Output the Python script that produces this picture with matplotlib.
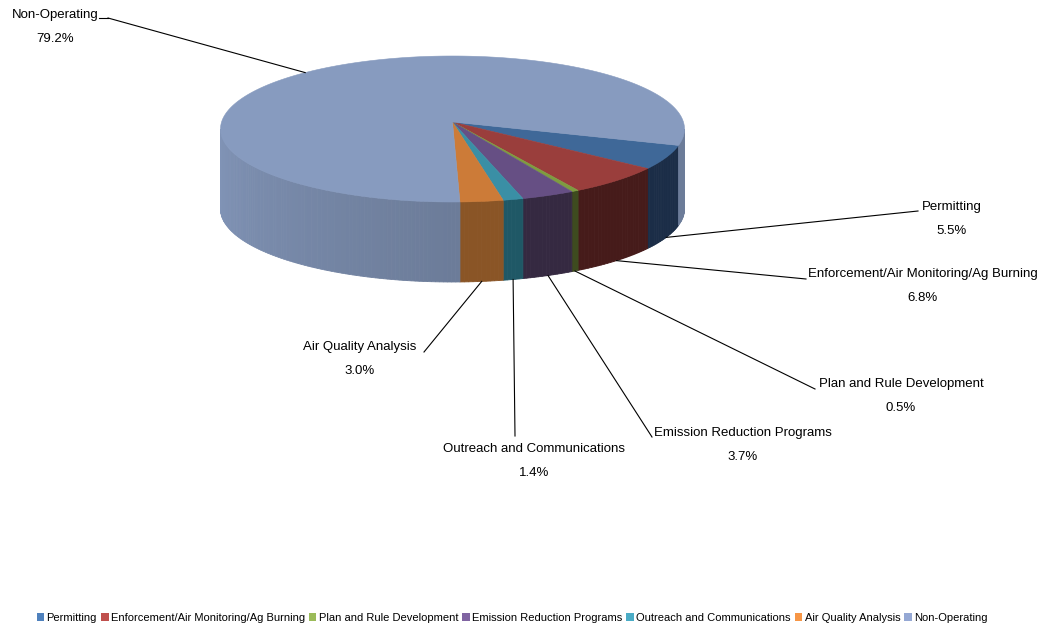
import numpy as np
import matplotlib
matplotlib.use('Agg')
import matplotlib.pyplot as plt
from matplotlib import font_manager
from matplotlib.patches import Polygon, Patch
from matplotlib.colors import to_rgb

# Данные
categories = ['Permitting', 'Enforcement/Air Monitoring/Ag Burning', 'Plan and Rule Development',
              'Emission Reduction Programs', 'Outreach and Communications', 'Air Quality Analysis',
              'Non-Operating']
shares = [5.5, 6.8, 0.5, 3.7, 1.4, 3.0, 79.2]

top_colors = ['#3F6898', '#9A3E3C', '#7E9C40', '#664F84', '#3A8FA5', '#CC7B38', '#879BBF']
side_colors = ['#1B2D47', '#461B1A', '#3E4B1F', '#352941', '#1F5866', '#8A5526', '#6C7C99']
legend_colors = ['#4F81BD', '#C0504D', '#9BBB59', '#8064A2', '#4BACC6', '#F79646', '#95A8D4']

# расположение подписей (в пикселях)
label_pos = [(952, 219), (923, 286), (901, 396), (743, 445), (534, 461), (360, 359), (55, 27)]
label_end = [(918, 211), (806, 279), (815, 389), (652, 437), (515, 436), (424, 352), (108, 18)]

names = {f.name for f in font_manager.fontManager.ttflist}
fam = 'Liberation Sans Narrow' if 'Liberation Sans Narrow' in names else 'Liberation Sans'
plt.rcParams['font.family'] = [fam, 'DejaVu Sans']
fs = 10.5 if fam == 'Liberation Sans Narrow' else 9.5

W, H = 1051, 629
fig = plt.figure(figsize=(W / 100, H / 100), dpi=100)
ax = fig.add_axes([0, 0, 1, 1])
ax.set_xlim(0, W)
ax.set_ylim(H, 0)
ax.axis('off')

ax0, ay0 = 452.5, 122          # вершина секторов
cx, cy, rx, ry, depth = 452.5, 129, 232, 73, 80
start = -13.0


def pt(t, dz=0):
    r = np.radians(t)
    return cx + rx * np.cos(r), cy - ry * np.sin(r) + dz


def shade(c, f):
    return tuple(min(1, v * f) for v in to_rgb(c))


total = sum(shares)
bounds = [start]
for s in shares:
    bounds.append(bounds[-1] - s / total * 360)

# боковые стенки (только передняя часть)
for i in range(len(shares)):
    lo, hi = bounds[i + 1], bounds[i]
    segs = []
    for off in (0, 360, -360):
        l, h = max(lo + off, -180), min(hi + off, 0)
        if l < h:
            segs.append((l, h))
    for l, h in segs:
        n = max(2, int((h - l) / 1.0))
        ts = np.linspace(l, h, n + 1)
        for k in range(n):
            ta, tb = ts[k], ts[k + 1]
            if i == len(shares) - 1:
                f = 1.0 + 0.2 * np.clip((-(ta + tb) / 2 - 90) / 90, 0, 1)
                col = shade(side_colors[i], f)
            else:
                col = side_colors[i]
            p1, p2 = pt(ta), pt(tb)
            poly = [p1, p2, (p2[0], p2[1] + depth), (p1[0], p1[1] + depth)]
            ax.add_patch(Polygon(poly, closed=True, fc=col, ec=col, lw=0.6))

# верхние грани
for i in range(len(shares)):
    ts = np.linspace(bounds[i], bounds[i + 1], 200)
    poly = [(ax0, ay0)] + [pt(t) for t in ts]
    ax.add_patch(Polygon(poly, closed=True, fc=top_colors[i], ec=top_colors[i], lw=0.4))

# подписи и выноски
for i, name in enumerate(categories):
    mid = (bounds[i] + bounds[i + 1]) / 2
    m = ((mid + 180) % 360) - 180
    x, y = pt(mid)
    if m < 0:
        y += depth
    ex, ey = label_end[i]
    ax.plot([x, ex], [y, ey], color='black', lw=0.8)
    if i == len(categories) - 1:
        ax.plot([ex, 99], [ey, ey], color='black', lw=0.8)
    lx, ly = label_pos[i]
    ax.text(lx, ly, f'{name}\n{shares[i]:.1f}%', ha='center', va='center', fontsize=fs,
            linespacing=2.3)

handles = [Patch(fc=c, ec='none') for c in legend_colors]
ax.legend(handles, categories, loc='center', bbox_to_anchor=(512 / W, 1 - 618 / H), ncol=7,
          frameon=False, fontsize=fs * 0.84, handlelength=0.7, handleheight=0.7, handletextpad=0.2,
          columnspacing=0.35, borderaxespad=0)

fig.savefig('out.png', dpi=100)
